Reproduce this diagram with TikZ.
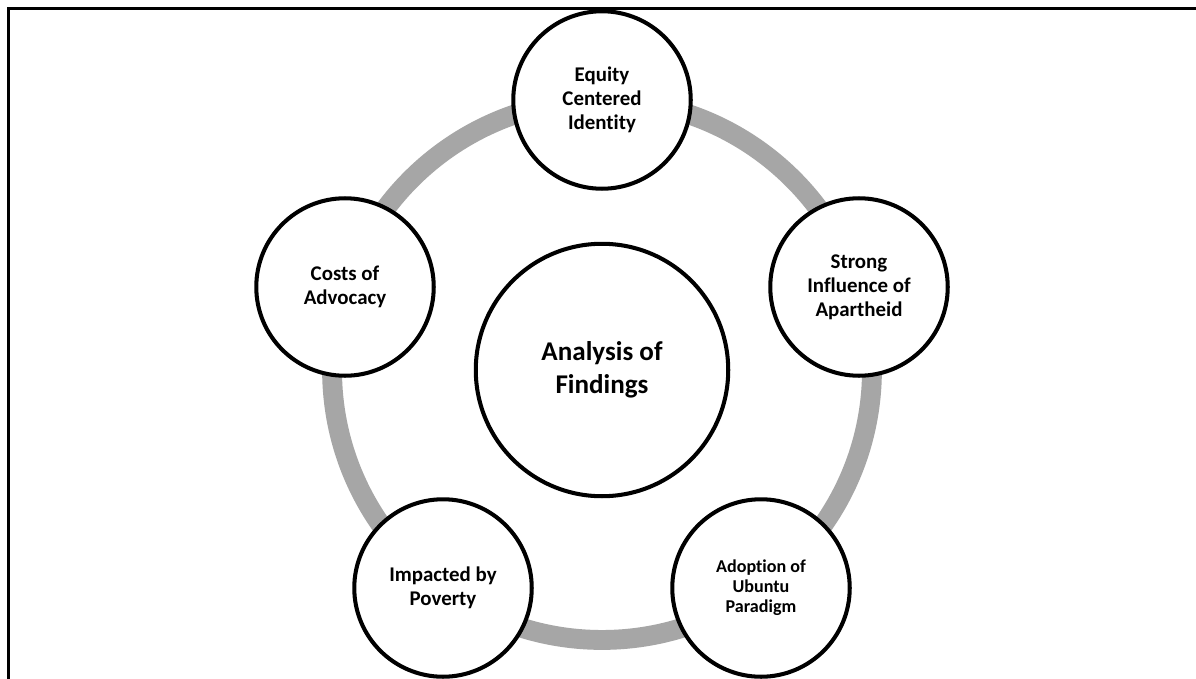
\documentclass[tikz,border=0pt]{standalone}
\usepackage{fontspec}
\setmainfont{Carlito}[Ligatures=NoCommon]
\begin{document}
% one unit = one pixel of a 1196 x 679 canvas, y running downwards
\begin{tikzpicture}[x=0.02cm,y=-0.02cm,
  frameline/.style={line width=1.2pt,draw=black},
  ring/.style={line width=11.3pt,draw={rgb,255:red,166;green,166;blue,166}},
  topic/.style={circle,draw=black,line width=2.3pt,fill=white,minimum size=3.55cm,
    align=center,inner sep=0pt,font=\bfseries\fontsize{11.9}{13.6}\selectfont},
  hub/.style={circle,draw=black,line width=2.3pt,fill=white,minimum size=5.05cm,
    align=center,inner sep=0pt,font=\bfseries\fontsize{15.4}{18.7}\selectfont}]
  \useasboundingbox (0,0) rectangle (1196,679);
  \fill[white] (0,0) rectangle (1196,679);

  % frame: only the top and left edges are visible
  \coordinate (fl) at (8.5,679);
  \coordinate (fc) at (8.5,8.5);
  \coordinate (fr) at (1196,8.5);
  \draw[frameline] (fl) -- (fc) -- (fr);

  % grey cycle ring behind the topics
  \coordinate (mid) at (602,370);
  \draw[ring] (mid) circle (5.4cm);

  \node[hub] (hub) at (mid) {Analysis of\\Findings};

  \node[topic] (equity) at (602,100) {Equity\\Centered\\Identity};
  \node[topic] (apartheid) at (859,287) {Strong\\Influence of\\Apartheid};
  \node[topic,font=\bfseries\fontsize{10.3}{11.4}\selectfont] (ubuntu) at (761,588) {Adoption of\\Ubuntu\\Paradigm};
  \node[topic] (poverty) at (443,588) {Impacted by\\Poverty};
  \node[topic] (advocacy) at (345,287) {Costs of\\Advocacy};
\end{tikzpicture}
\end{document}
